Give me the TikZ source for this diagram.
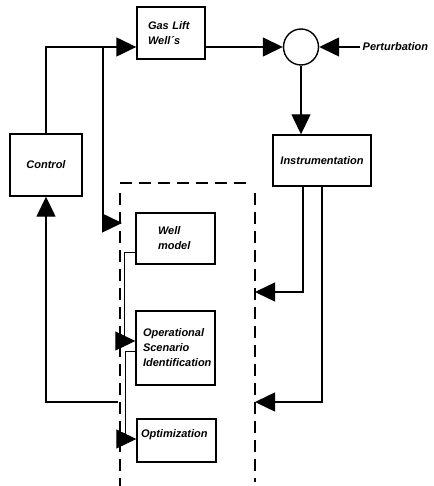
\documentclass[tikz,border=0pt]{standalone}
\usepackage{fontspec}
\setmainfont{Liberation Sans}
\usepackage{tikz}
\usetikzlibrary{arrows.meta, positioning, calc, shapes.geometric}

\begin{document}
\begin{tikzpicture}[x=1pt, y=-1pt, >={Triangle[length=20pt, width=19pt]}, line width=1.4pt,
    blk/.style={draw, line width=1.4pt, font=\fontsize{11}{15}\selectfont\bfseries\itshape, align=left},
    lbl/.style={font=\fontsize{11}{15}\selectfont\bfseries\itshape},
    thinline/.style={line width=0.9pt},
    border/.style={dash pattern=on 12pt off 7pt, line width=1.4pt}]
    \useasboundingbox (0,0) rectangle (433,486);

    \node[blk, text width=46pt, inner xsep=11pt, minimum height=52pt] (gas) at (171,33) {Gas Lift\\Well´s};
    \node[blk, minimum width=72pt, minimum height=62pt, align=center] (ctrl) at (46,165) {Control};
    \node[blk, minimum width=98pt, minimum height=51pt, align=center] (instr) at (322,160.5) {Instrumentation};
    \node[draw, ellipse, minimum width=35pt, minimum height=36pt] (sum) at (301,47) {};
    \node[lbl, anchor=west, inner sep=2pt] (pert) at (360,47) {Perturbation};
    \node[blk, text width=35pt, inner xsep=22pt, minimum height=51pt] (well) at (175.5,238.5) {Well\\model};
    \node[blk, text width=65pt, inner xsep=7pt, minimum height=74pt] (osi) at (175.5,348) {Operational\\Scenario\\Identification};
    \node[blk, text width=71pt, inner xsep=4pt, minimum height=43pt, text depth=13pt] (opt) at (176.5,440.5) {Optimization};

    \draw[border] (120,183) -- (250,183);
    \draw[border] (120,193) -- (120,486);
    \draw[border] (255,193) -- (255,482);

    \coordinate (bus) at (103,47);
    \coordinate (dl1) at (122,223);
    \coordinate (dl2) at (118,402);
    \coordinate (dr1) at (255,292);
    \coordinate (dr2) at (255,402);

    \draw (ctrl.north) |- (bus);
    \draw[->] (bus) -- (gas.west |- bus);
    \draw[->] (bus) |- (dl1);
    \draw[->] (gas.east |- sum) -- (sum.west);
    \draw[->] (pert.west) -- (sum.east);
    \draw[->] (sum.south) -- (sum.south |- instr.north);
    \draw[->] ([xshift=-19pt]instr.south) |- (dr1);
    \draw[->] (instr.south) |- (dr2);
    \draw[->] (dl2) -| (ctrl.south);
    \draw[thinline, ->] ([yshift=-13.5pt]well.west) -| ([xshift=-11pt, yshift=7pt]osi.west) -- ([yshift=7pt]osi.west);
    \draw[thinline, ->] ([yshift=-3pt]osi.west) -| ([xshift=-11pt, yshift=1.5pt]opt.west) -- ([yshift=1.5pt]opt.west);
\end{tikzpicture}
\end{document}
